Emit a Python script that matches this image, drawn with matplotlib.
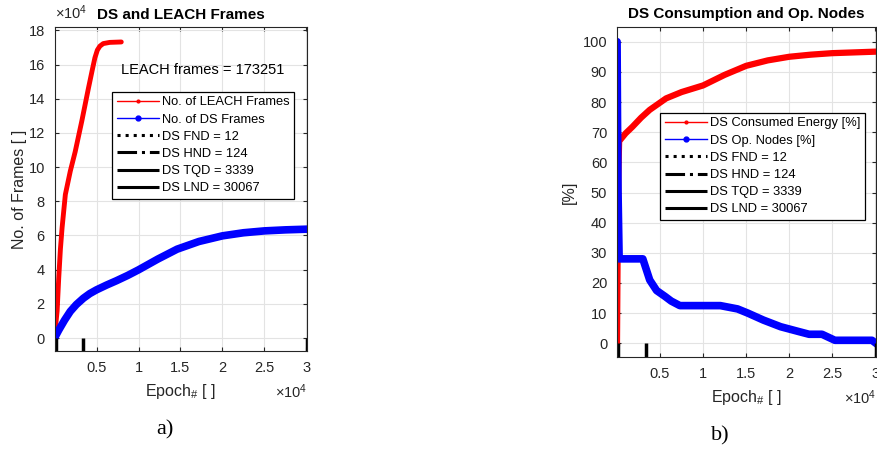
import matplotlib
matplotlib.use("Agg")
import matplotlib.pyplot as plt

plt.rcParams["font.family"] = ["Liberation Sans", "DejaVu Sans"]
plt.rcParams["mathtext.fontset"] = "custom"
plt.rcParams["mathtext.rm"] = "Liberation Sans"
plt.rcParams["mathtext.it"] = "Liberation Sans"

# --- data ---
leach_epoch = [0, 150, 310, 500, 700, 900, 1290, 1880, 2460, 3250, 4030, 4500, 4810, 5100,
               5400, 5800, 6570, 7950]
leach_frames = [0, 8000, 15800, 35000, 52000, 64500, 84000, 97700, 109000, 127000, 146000,
                157000, 164000, 168500, 170800, 172300, 173000, 173251]

ds_epoch = [0, 500, 1200, 1880, 2600, 3440, 4200, 5000, 6200, 7360, 8700, 10000, 12300,
            14600, 17200, 20000, 22500, 25000, 27500, 30067]
ds_frames = [0, 4600, 10500, 15600, 19600, 23300, 26000, 28200, 31000, 33500, 36600, 39900,
             46200, 52000, 56500, 59800, 61600, 62700, 63300, 63700]

en_epoch = [0, 60, 150, 250, 1000, 1800, 2800, 3800, 5700, 7500, 10000, 12500, 15000, 17500,
            20000, 22500, 25000, 30067]
en_pct = [0, 25, 55, 67, 69.6, 71.8, 74.8, 77.4, 81.2, 83.3, 85.5, 89.0, 92.0, 93.8, 95.0,
          95.7, 96.2, 96.7]

op_epoch = [0, 12, 60, 124, 250, 3000, 3800, 4600, 5600, 6300, 7300, 12000, 14000, 15200,
            17000, 19000, 21100, 22300, 23800, 25300, 29600, 30067]
op_pct = [100, 100, 75, 50, 28, 28, 21, 17.5, 15.5, 14, 12.5, 12.5, 11.4, 10, 7.7, 5.5,
          3.9, 3, 3, 1, 1, 0]

ds_fnd, ds_hnd, ds_tqd, ds_lnd = 12, 124, 3339, 30067
x_ticks = [5000, 10000, 15000, 20000, 25000, 30000]
x_labels = ["0.5", "1", "1.5", "2", "2.5", "3"]
y1_ticks = list(range(0, 180001, 20000))
y1_labels = [str(v // 10000) for v in y1_ticks]
y2_ticks = list(range(0, 101, 10))

TXT = "#262626"


def style(ax, ylo, yhi, mult_y):
    ax.set_xlim(0, ds_lnd)
    ax.set_ylim(ylo, yhi)
    ax.set_xticks(x_ticks)
    ax.set_xticklabels(x_labels)
    ax.grid(True, color="#e3e3e3", lw=0.8)
    ax.set_axisbelow(True)
    ax.tick_params(direction="in", length=3, colors=TXT, labelsize=10.5,
                   top=True, right=True, pad=7)
    for s in ax.spines.values():
        s.set_color(TXT)
        s.set_linewidth(0.8)
    ax.set_xlabel("Epoch$_{\\#}$ [ ]", fontsize=11.5, color=TXT, labelpad=5)
    ax.text(1.0, mult_y, "$\\times10^4$", transform=ax.transAxes, ha="right", va="center",
            fontsize=10.5, color=TXT)
    # death markers along the bottom
    ax.vlines(ds_fnd, ylo, 0, colors="k", linestyles=":", lw=2.5, label=f"DS FND = {ds_fnd}")
    ax.vlines(ds_hnd, ylo, 0, colors="k", linestyles="-.", lw=2.5, label=f"DS HND = {ds_hnd}")
    ax.vlines(ds_tqd, ylo, 0, colors="k", linestyles="-", lw=2.5, label=f"DS TQD = {ds_tqd}")
    ax.vlines(ds_lnd, ylo, 0, colors="k", linestyles="-", lw=2.5, label=f"DS LND = {ds_lnd}")


def legend(ax, anchor):
    leg = ax.legend(loc="upper right", bbox_to_anchor=anchor, fontsize=9.3, fancybox=False,
                    framealpha=1, edgecolor="k", handlelength=3.3, handletextpad=0.2,
                    labelspacing=0.4, borderpad=0.35, borderaxespad=0)
    leg.get_frame().set_linewidth(0.9)
    hs = leg.legend_handles
    hs[0].set_linewidth(1)
    hs[0].set_marker(".")
    hs[0].set_markersize(4)
    hs[1].set_linewidth(1)
    hs[1].set_marker("o")
    hs[1].set_markersize(3.5)
    for h in hs[2:]:
        h.set_linewidth(2.2)


fig = plt.figure(figsize=(8.78, 4.51), dpi=100)
ax1 = fig.add_axes([0.0621, 0.2217, 0.2876, 0.7184])
ax2 = fig.add_axes([0.7027, 0.2080, 0.2950, 0.7330])

# a) frames
ax1.plot(leach_epoch, leach_frames, color="#ff0000", lw=3.5, label="No. of LEACH Frames",
         solid_capstyle="round")
ax1.plot(ds_epoch, ds_frames, color="#0000ff", lw=5.5, label="No. of DS Frames",
         solid_capstyle="round")
style(ax1, -7600, 182000, -0.127)
ax1.set_yticks(y1_ticks)
ax1.set_yticklabels(y1_labels)
ax1.set_ylabel("No. of Frames [ ]", fontsize=11.5, color=TXT, labelpad=1)
ax1.set_title("DS and LEACH Frames", fontsize=11, fontweight="bold", pad=6)
ax1.text(0, 1.015, "$\\times10^4$", transform=ax1.transAxes, ha="left", va="bottom",
         fontsize=10.5, color=TXT)
ax1.text(17700, 157000, f"LEACH frames = {max(leach_frames)}", ha="center", va="center",
         fontsize=10.5)
legend(ax1, (0.949, 0.80))

# b) consumption / operating nodes
ax2.plot(en_epoch, en_pct, color="#ff0000", lw=4.5, label="DS Consumed Energy [%]")
ax2.plot(op_epoch, op_pct, color="#0000ff", lw=5.5, label="DS Op. Nodes [%]")
style(ax2, -4.6, 105, -0.124)
ax2.set_yticks(y2_ticks)
ax2.set_ylabel("[%]", fontsize=11.5, color=TXT, labelpad=4)
ax2.set_title("DS Consumption and Op. Nodes", fontsize=11, fontweight="bold", pad=6)
legend(ax2, (0.957, 0.739))

fig.text(165 / 878, 1 - 430 / 451, "a)", fontsize=16, family="Liberation Serif",
         ha="center", va="center")
fig.text(720 / 878, 1 - 436 / 451, "b)", fontsize=16, family="Liberation Serif",
         ha="center", va="center")

fig.savefig("out.png", dpi=100)
